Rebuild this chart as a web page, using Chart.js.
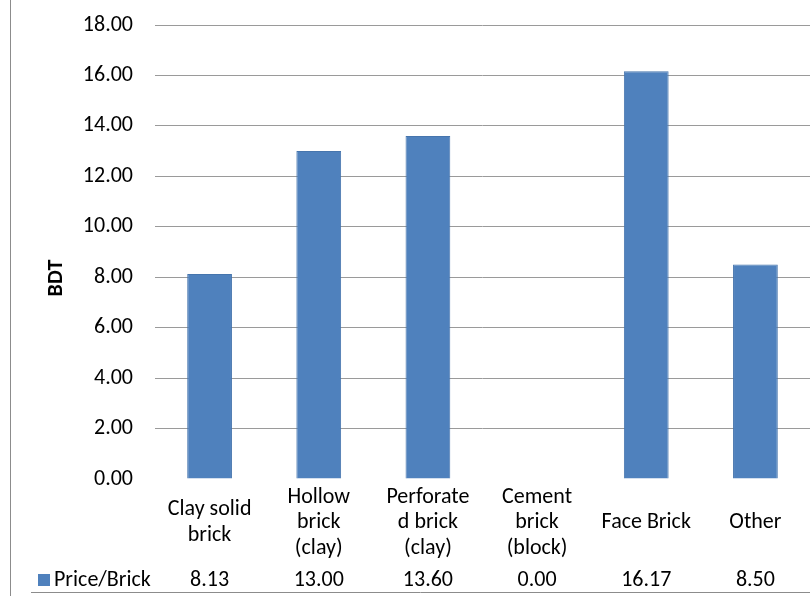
<!DOCTYPE html>
<html>
<head>
<meta charset="utf-8">
<script src="https://cdn.jsdelivr.net/npm/chart.js@4.4.0/dist/chart.umd.min.js"></script>
<style>
  html, body { margin: 0; padding: 0; background: #fff; }
  #wrap { width: 810px; height: 596px; position: relative; }
</style>
</head>
<body>
<div id="wrap"><canvas id="brick-price-chart"></canvas></div>
<script>
"use strict";

// data
var categories = [
    ["Clay solid", "brick"],
    ["Hollow", "brick", "(clay)"],
    ["Perforate", "d brick", "(clay)"],
    ["Cement", "brick", "(block)"],
    ["Face Brick"],
    ["Other"]
];
var seriesName = "Price/Brick";
var priceValues = [8.13, 13.00, 13.60, 0.00, 16.17, 8.50];
var axisTitle = "BDT";
var yMin = 0, yMax = 18, yStep = 2;

var fontFamily = 'Carlito, Lato, "Liberation Sans", sans-serif';
var barColor = "#4F81BD";

// frame, axis title and the data table row under the categories
var dataTablePlugin = {
    id: "dataTable",
    afterDraw: function(chart) {
        var ctx = chart.ctx, xs = chart.scales.x;
        ctx.save();

        ctx.strokeStyle = "#8c8c8c";
        ctx.lineWidth = 1;
        ctx.beginPath();
        ctx.moveTo(10.5, 0);
        ctx.lineTo(10.5, chart.height);
        ctx.moveTo(31, 592.5);
        ctx.lineTo(chart.width, 592.5);
        ctx.stroke();

        ctx.fillStyle = "#000";
        ctx.font = "bold 22px " + fontFamily;
        ctx.textAlign = "center";
        ctx.textBaseline = "middle";
        ctx.translate(56, 278);
        ctx.rotate(-Math.PI / 2);
        ctx.fillText(axisTitle, 0, 0);
        ctx.setTransform(1, 0, 0, 1, 0, 0);

        var rowY = 580;
        ctx.fillStyle = barColor;
        ctx.fillRect(38, rowY - 6, 12, 12);
        ctx.fillStyle = "#000";
        ctx.font = "22px " + fontFamily;
        ctx.textAlign = "left";
        ctx.fillText(seriesName, 54, rowY);
        ctx.textAlign = "center";
        priceValues.forEach(function(v, i) {
            ctx.fillText(v.toFixed(2), xs.getPixelForValue(i), rowY);
        });
        ctx.restore();
    }
};

new Chart(document.getElementById("brick-price-chart").getContext("2d"), {
    type: "bar",
    data: {
        labels: categories,
        datasets: [{
            label: seriesName,
            data: priceValues,
            backgroundColor: barColor,
            borderColor: "#4675AD",
            borderWidth: 1,
            categoryPercentage: 0.41,
            barPercentage: 1
        }]
    },
    options: {
        responsive: true,
        maintainAspectRatio: false,
        animation: false,
        layout: { padding: { top: 25, left: 75, right: 0, bottom: 0 } },
        plugins: {
            legend: { display: false },
            tooltip: { enabled: false }
        },
        scales: {
            x: {
                grid: { display: false, drawTicks: false },
                border: { display: false },
                ticks: {
                    color: "#000",
                    font: { family: fontFamily, size: 22, lineHeight: 1.16 },
                    padding: 18,
                    crossAlign: "center",
                    maxRotation: 0,
                    autoSkip: false
                },
                afterFit: function(s) { s.height = 117; }
            },
            y: {
                min: yMin,
                max: yMax,
                grid: {
                    drawTicks: false,
                    color: function(c) { return c.tick && c.tick.value === 0 ? "rgba(0,0,0,0)" : "#9a9a9a"; }
                },
                border: { display: false },
                ticks: {
                    stepSize: yStep,
                    color: "#000",
                    padding: 22,
                    font: { family: fontFamily, size: 22 },
                    callback: function(v) { return v.toFixed(2); }
                },
                afterFit: function(s) {
                    s.width = 80;
                    s.paddingTop = 0;
                    s.paddingBottom = 0;
                }
            }
        }
    },
    plugins: [dataTablePlugin]
});
</script>
</body>
</html>
